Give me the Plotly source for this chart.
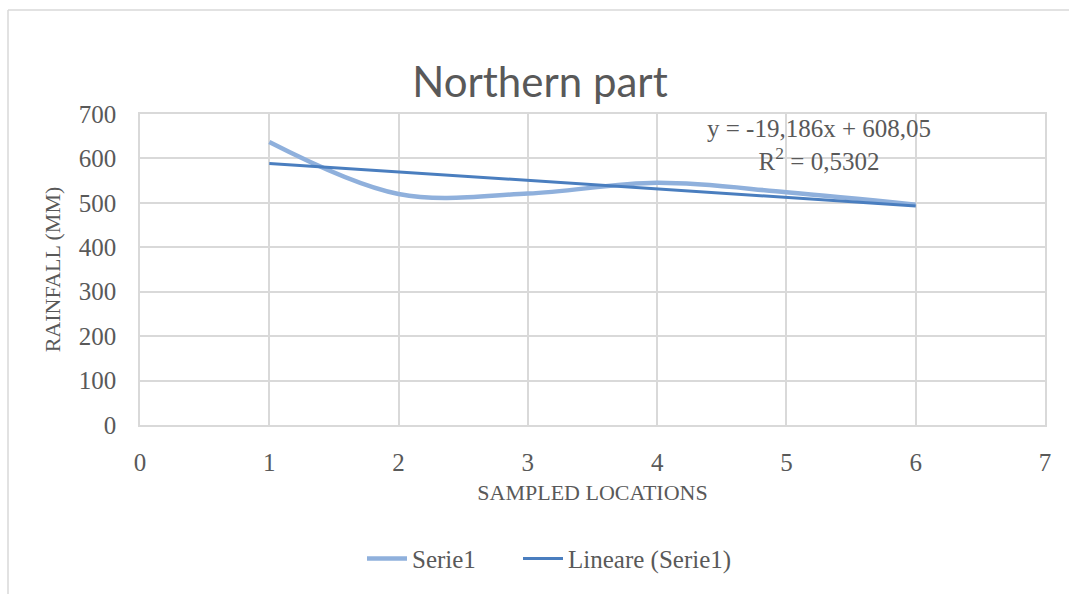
import plotly.graph_objects as go

locations = [1, 2, 3, 4, 5, 6]
rainfall = [637, 520, 521, 545, 524, 496]
trend_slope = -19.186
trend_intercept = 608.05
trend_r2 = "0,5302"
x_ticks = [0, 1, 2, 3, 4, 5, 6, 7]
y_ticks = [0, 100, 200, 300, 400, 500, 600, 700]

W, H = 1069, 594
L, R, T, B = 140, 24, 114, 166
pw, ph = W - L - R, H - T - B

trend_y = [trend_slope * x + trend_intercept for x in locations]

grey = "#595959"
grid = "#D9D9D9"
serif = "Liberation Serif, DejaVu Serif, serif"

fig = go.Figure()
fig.add_trace(go.Scatter(x=locations, y=rainfall, mode="lines", name="Serie1", legend="legend",
                         line=dict(color="#8FB0DC", width=4.5, shape="spline", smoothing=1.0)))
fig.add_trace(go.Scatter(x=[locations[0], locations[-1]], y=[trend_y[0], trend_y[-1]],
                         mode="lines", name="Lineare (Serie1)", legend="legend2",
                         line=dict(color="#4A7EBF", width=3)))

def px2x(px):
    return (px - L) / pw

def py2y(py):
    return (H - B - py) / ph

leg_common = dict(orientation="h", xanchor="left", xref="paper",
                  y=py2y(563), yanchor="middle", yref="paper",
                  font=dict(family=serif, size=25, color=grey), itemwidth=40,
                  bgcolor="rgba(0,0,0,0)")

fig.update_layout(
    width=W, height=H,
    margin=dict(l=L, r=R, t=T, b=B),
    paper_bgcolor="white", plot_bgcolor="white",
    title=dict(text="Northern part", x=540 / W, xanchor="center",
               y=1 - 82 / H, yanchor="middle",
               font=dict(family="Lato, Open Sans, sans-serif", size=42, color=grey)),
    xaxis=dict(range=[0, 7], tickvals=x_ticks, showgrid=True, gridcolor=grid, gridwidth=1.5,
               zeroline=False, showline=True, linecolor=grid, linewidth=1.5, mirror=True,
               ticks="", ticklabelstandoff=14,
               tickfont=dict(family=serif, size=25, color=grey),
               title=dict(text="SAMPLED LOCATIONS", standoff=10,
                          font=dict(family=serif, size=22, color=grey))),
    yaxis=dict(range=[0, 700], tickvals=y_ticks, showgrid=True, gridcolor=grid, gridwidth=1.5,
               zeroline=False, showline=True, linecolor=grid, linewidth=1.5, mirror=True,
               ticks="", ticklabelstandoff=17,
               tickfont=dict(family=serif, size=25, color=grey),
               title=dict(text="RAINFALL (MM)", standoff=12,
                          font=dict(family=serif, size=22, color=grey))),
    legend=dict(x=px2x(362), **leg_common),
    legend2=dict(x=px2x(518), **leg_common),
    showlegend=True,
)

fig.add_annotation(xref="paper", yref="paper", x=px2x(819), y=py2y(145),
                   xanchor="center", yanchor="middle", showarrow=False,
                   text=f"y = {str(trend_slope).replace('.', ',')}x + {str(trend_intercept).replace('.', ',')}<br>R<sup>2</sup> = {trend_r2}",
                   font=dict(family=serif, size=25, color=grey), align="center")

# chart-area border (top and left visible in the reference crop)
fig.add_shape(type="line", xref="paper", yref="paper", x0=px2x(8), x1=px2x(W + 5),
              y0=py2y(9), y1=py2y(9), line=dict(color=grid, width=1.5))
fig.add_shape(type="line", xref="paper", yref="paper", x0=px2x(8), x1=px2x(8),
              y0=py2y(9), y1=py2y(H + 5), line=dict(color=grid, width=1.5))

fig.write_html("out.html")
